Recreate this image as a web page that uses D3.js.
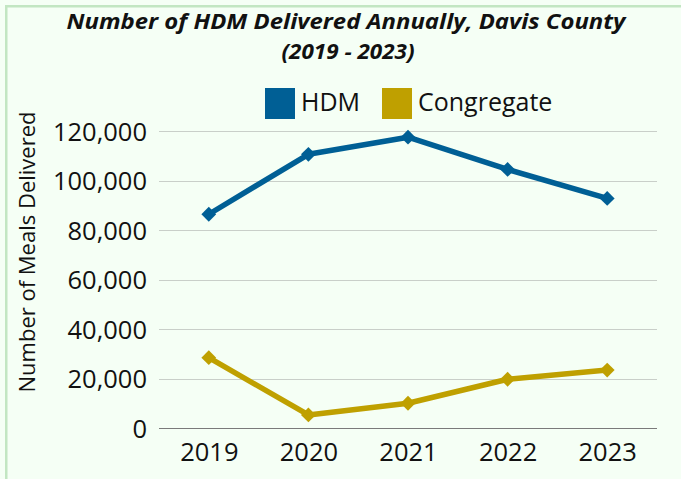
<!DOCTYPE html>
<html><head><meta charset="utf-8">
<script src="https://cdn.jsdelivr.net/npm/d3@7"></script>
<style>html,body{margin:0;padding:0;background:#f5fff5;overflow:hidden}</style>
</head><body>
<script>
const years = ["2019","2020","2021","2022","2023"];
const hdm = [86400, 110600, 117500, 104500, 92800];
const congregate = [28500, 5400, 10100, 19800, 23500];
const yTicks = [0, 20000, 40000, 60000, 80000, 100000, 120000];
const seriesNames = ["HDM", "Congregate"];
const seriesColors = ["#005f95", "#bfa000"];

const W = 681, H = 479;
const svg = d3.select("body").append("svg").attr("width", W).attr("height", H);
svg.append("rect").attr("x", 0).attr("y", 0).attr("width", W).attr("height", H).attr("fill", "#f5fff5");
svg.append("rect").attr("x", 6.25).attr("y", 6.25).attr("width", W + 20).attr("height", H + 20)
  .attr("fill", "#f5fff5").attr("stroke", "#c2e6c2").attr("stroke-width", 2.5);

const font = "'Open Sans', 'Noto Sans', sans-serif";

// Title
const t = svg.append("g").attr("font-family", font).attr("font-weight", "bold").attr("font-style", "italic")
  .attr("font-size", 22).attr("fill", "#111").attr("text-anchor", "middle");
t.append("text").attr("x", 346).attr("y", 28.5).attr("textLength", 559).attr("lengthAdjust", "spacingAndGlyphs")
  .text("Number of HDM Delivered Annually, Davis County");
t.append("text").attr("x", 348).attr("y", 59).attr("textLength", 133).attr("lengthAdjust", "spacingAndGlyphs")
  .text("(2019 - 2023)");

const x = d3.scalePoint().domain(years).range([159, 657]).padding(0.5);
const y = d3.scaleLinear().domain([0, 120000]).range([428.3, 131]);

// gridlines
svg.append("g").selectAll("line").data(yTicks.filter(d => d > 0)).join("line")
  .attr("x1", 159).attr("x2", 657).attr("y1", d => Math.round(y(d)) + 0.5).attr("y2", d => Math.round(y(d)) + 0.5)
  .attr("stroke", "#c9cfc9").attr("stroke-width", 1);
svg.append("line").attr("x1", 159).attr("x2", 657).attr("y1", 428.5).attr("y2", 428.5)
  .attr("stroke", "#7a7a7a").attr("stroke-width", 1);

// y axis
const yAxis = d3.axisLeft(y).tickValues(yTicks).tickSize(0).tickPadding(0)
  .tickFormat(d3.format(","));
const ya = svg.append("g").attr("transform", "translate(147,0)").call(yAxis);
ya.select(".domain").remove();
ya.selectAll("text").attr("font-family", font).attr("font-size", 25.5).attr("fill", "#111").attr("dy", "0.36em");

// x axis
const xAxis = d3.axisBottom(x).tickSize(0).tickPadding(0);
const xa = svg.append("g").attr("transform", "translate(0,428)").call(xAxis);
xa.select(".domain").remove();
xa.selectAll("text").attr("font-family", font).attr("font-size", 25.5).attr("fill", "#111").attr("dy", "0").attr("y", 33);

// y title
svg.append("text").attr("transform", "translate(35,252) rotate(-90)").attr("text-anchor", "middle")
  .attr("font-family", font).attr("font-size", 22).attr("fill", "#111").text("Number of Meals Delivered");

// lines
const data = [hdm, congregate];
const line = d3.line().x((d, i) => x(years[i])).y(d => y(d));
data.forEach((vals, si) => {
  svg.append("path").datum(vals).attr("d", line).attr("fill", "none")
    .attr("stroke", seriesColors[si]).attr("stroke-width", 5.5).attr("stroke-linejoin", "round");
  svg.append("g").selectAll("path").data(vals).join("path")
    .attr("d", d3.symbol(d3.symbolDiamond2, 140))
    .attr("transform", (d, i) => `translate(${x(years[i])},${y(d)})`)
    .attr("fill", seriesColors[si]);
});

// legend
const legendX = [265, 382];
const lg = svg.append("g");
seriesNames.forEach((n, i) => {
  lg.append("rect").attr("x", legendX[i]).attr("y", 88).attr("width", 30).attr("height", 31).attr("fill", seriesColors[i]);
  lg.append("text").attr("x", legendX[i] + 36).attr("y", 111).attr("font-family", font).attr("font-size", 25)
    .attr("fill", "#111").text(n);
});
</script>
</body></html>
